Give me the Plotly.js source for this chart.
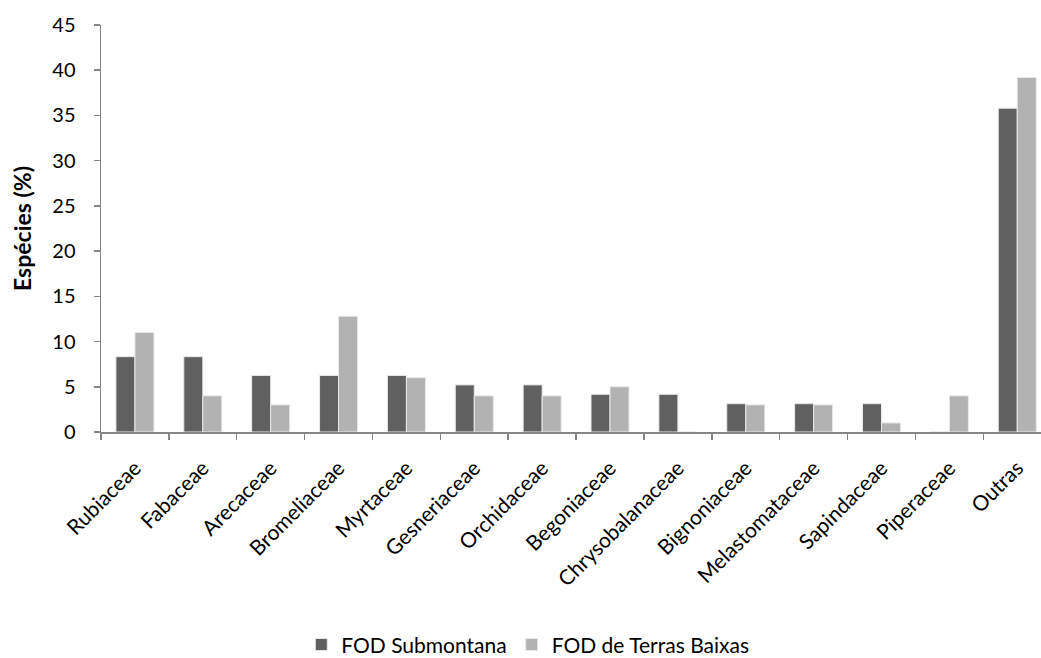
<!DOCTYPE html>
<html>
<head>
<meta charset="utf-8">
<script src="https://cdn.plot.ly/plotly-3.0.1.min.js"></script>
<style>html,body{margin:0;padding:0;background:#fff;overflow:hidden}</style>
</head>
<body>
<div id="chart" style="width:1041px;height:658px"></div>
<script>
const categories = ["Rubiaceae","Fabaceae","Arecaceae","Bromeliaceae","Myrtaceae","Gesneriaceae","Orchidaceae","Begoniaceae","Chrysobalanaceae","Bignoniaceae","Melastomataceae","Sapindaceae","Piperaceae","Outras"];
const submontana = [8.33, 8.33, 6.25, 6.25, 6.25, 5.21, 5.21, 4.17, 4.17, 3.13, 3.13, 3.13, 0, 35.8];
const terrasBaixas = [11, 4, 3, 12.8, 6, 4, 4, 5, 0, 3, 3, 1, 4, 39.2];
const yTicks = [0,5,10,15,20,25,30,35,40,45];

const font = "Lato, 'Open Sans', 'Liberation Sans', sans-serif";
const data = [
  {type:"bar", name:"FOD Submontana", x:categories, y:submontana,
   marker:{color:"#606060", line:{color:"#e8e8e8", width:1}}},
  {type:"bar", name:"FOD de Terras Baixas", x:categories, y:terrasBaixas,
   marker:{color:"#b2b2b2", line:{color:"#e8e8e8", width:1}}}
];
const layout = {
  width:1041, height:658,
  margin:{l:101, r:0, t:25, b:226, pad:0},
  paper_bgcolor:"#fff", plot_bgcolor:"#fff",
  font:{family:font, size:20, color:"#000"},
  barmode:"group", bargap:0.44, bargroupgap:0,
  showlegend:true,
  legend:{orientation:"h", xref:"container", yref:"container", x:0.507, y:0.02,
          xanchor:"center", yanchor:"middle", font:{size:21, family:font},
          itemwidth:30, traceorder:"normal"},
  xaxis:{type:"category", range:[-0.5, 13.35], tickangle:-45,
         showline:true, linecolor:"#868686", linewidth:1.5,
         ticks:"outside", tickson:"boundaries", ticklen:6, tickcolor:"#868686", tickwidth:1.5,
         ticklabelstandoff:14,
         showgrid:false, zeroline:false, tickfont:{size:21, family:font}},
  yaxis:{range:[0,45], tickvals:yTicks, ticktext:yTicks.map(String),
         showline:true, linecolor:"#868686", linewidth:1.5,
         ticks:"outside", ticklen:6, tickcolor:"#868686", tickwidth:1.5,
         ticklabelstandoff:14,
         showgrid:false, zeroline:false, tickfont:{size:20, family:font},
         title:{text:"<b>Espécies (%)</b>", font:{size:23, family:font}, standoff:14}}
};
Plotly.newPlot("chart", data, layout, {displayModeBar:false, staticPlot:true});
</script>
</body>
</html>
